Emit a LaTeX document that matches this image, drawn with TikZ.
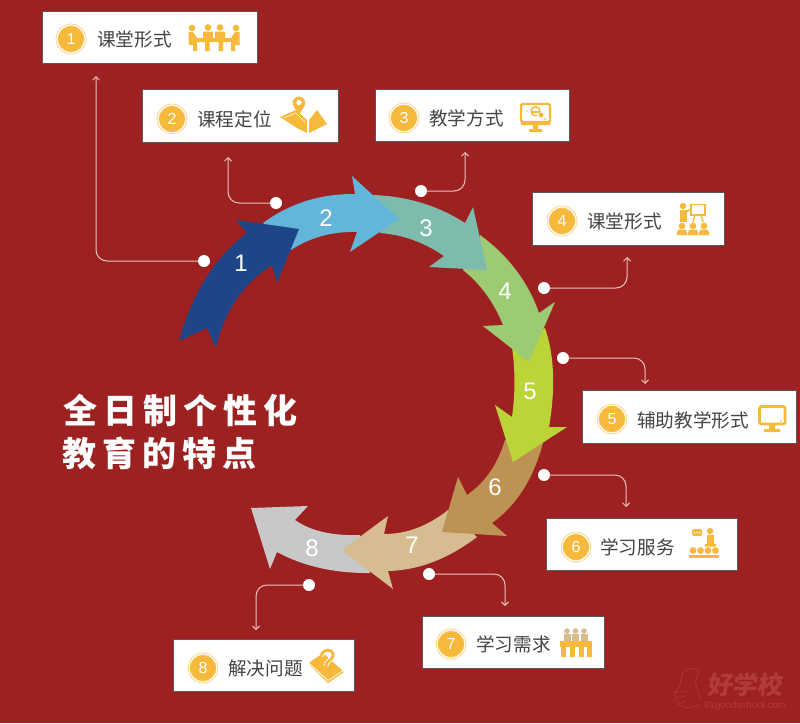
\documentclass[tikz,border=0pt]{standalone}
\usepackage{fontspec}
\setmainfont{Liberation Sans}
\newfontfamily\cjk{Noto Sans CJK SC}
\usetikzlibrary{arrows.meta}
\definecolor{bgred}{HTML}{9E2121}
\definecolor{ico}{HTML}{F6B93B}
\definecolor{icotan}{HTML}{D9BC8C}
\definecolor{conn}{HTML}{E9C4BC}
\definecolor{wm}{HTML}{AF3B3B}
\definecolor{txt}{HTML}{444444}
\definecolor{aone}{HTML}{1D4587}
\definecolor{atwo}{HTML}{63B6D9}
\definecolor{athree}{HTML}{7DBCAD}
\definecolor{afour}{HTML}{9CCB74}
\definecolor{afive}{HTML}{BBD437}
\definecolor{asix}{HTML}{BC9352}
\definecolor{aseven}{HTML}{D6BC90}
\definecolor{aeight}{HTML}{C8C8C8}
\tikzset{
 box/.style={draw=black!65,line width=.7pt,fill=white,inner sep=0,outer sep=0,minimum height=52.5pt},
 badge/.style={circle,fill=ico,draw=ico!75,line width=.7pt,double=white,double distance=1.2pt,minimum size=28pt,inner sep=0,text=white,font=\fontsize{16}{16}\selectfont},
 lab/.style={anchor=west,inner sep=0,text=txt,font=\cjk\fontsize{18.6}{20}\selectfont},
 num/.style={text=white,inner sep=0,font=\fontsize{24}{24}\selectfont},
 dotn/.style={circle,fill=white,minimum size=12pt,inner sep=0,outer sep=0},
 link/.style={draw=conn,line width=1pt,rounded corners=11pt,-{Straight Barb[length=3.5pt,width=7pt]}},
 title/.style={anchor=west,inner sep=0,text=white,font=\cjk\bfseries\fontsize{34}{36}\selectfont},
 wmark/.style={inner sep=0,text=wm},
}
\begin{document}
\begin{tikzpicture}[x=1pt,y=-1pt]
\useasboundingbox (0,0) rectangle (800,723);
\fill[bgred] (0,0) rectangle (800,723);

% ring of arrows, last first so that each head lies over the next tail
\fill[aeight] (370,573) .. controls (334.3,573.3) and (303.3,566.3) .. (277,552) -- (270,569) -- (251,508) -- (308,506) -- (295,520) .. controls (310.7,531) and (332.3,536) .. (360,535) -- cycle;
\fill[aseven] (477,537) .. controls (448,559) and (418.3,570.3) .. (388,571) -- (393,589) -- (342,550) -- (388,516) -- (384,534) .. controls (406.7,534) and (428,526) .. (448,510) -- cycle;
\fill[asix] (543,443) .. controls (533.3,479) and (516.3,505.7) .. (492,523) -- (507,536) -- (442,532) -- (458,477) -- (467,495) .. controls (485,482.7) and (497.7,464.3) .. (505,440) -- cycle;
\fill[afive] (545,328) .. controls (554.3,355) and (555.7,388) .. (549,427) -- (567,427) -- (513,462) -- (495,405) -- (512,417) .. controls (515.3,393.7) and (515.3,370.3) .. (512,347) -- cycle;
\fill[afour] (480,235) .. controls (508.3,255.7) and (528,281.7) .. (539,313) -- (555,302) -- (529,362) -- (483,326) -- (503,325) .. controls (493.7,302) and (480.3,283.7) .. (463,270) -- cycle;
\fill[athree] (373,195) .. controls (407.7,196.3) and (438.3,205.7) .. (465,223) -- (473,207) -- (487,270) -- (429,267) -- (444,256) .. controls (424,242.3) and (402.7,234.7) .. (380,233) -- cycle;
\fill[atwo] (263,223) .. controls (289.7,203.3) and (320.3,193.7) .. (355,194) -- (352,176) -- (399,219) -- (350,252) -- (357,232) .. controls (332.3,231.3) and (310.3,237.3) .. (291,250) -- cycle;
\fill[aone] (247,233) .. controls (215,257) and (192.3,293) .. (179,341) -- (207,328) -- (216,348) .. controls (224,311.7) and (242.7,284) .. (272,265) -- (277,283) -- (299,229) -- (236,220) -- cycle;

\node[num] (n1) at (241,263) {1};
\node[num] (n2) at (326,218) {2};
\node[num] (n3) at (426,228) {3};
\node[num] (n4) at (505,291) {4};
\node[num] (n5) at (530,391) {5};
\node[num] (n6) at (495,487) {6};
\node[num] (n7) at (412,545) {7};
\node[num] (n8) at (312,548) {8};

% boxes
\node[box,minimum width=215pt] (b1) at (149.5,37.5) {};
\node[box,minimum width=196pt] (b2) at (240,116) {};
\node[box,minimum width=194pt] (b3) at (472,115.5) {};
\node[box,minimum width=192pt] (b4) at (628,219) {};
\node[box,minimum width=214pt] (b5) at (689,417) {};
\node[box,minimum width=191pt] (b6) at (641.5,544.5) {};
\node[box,minimum width=182pt] (b7) at (513,642.5) {};
\node[box,minimum width=181pt] (b8) at (263.5,665.5) {};

\node[badge] (c1) at (71,39) {1};
\node[badge] (c2) at (172,119) {2};
\node[badge] (c3) at (404,118) {3};
\node[badge] (c4) at (562,221) {4};
\node[badge] (c5) at (612,419) {5};
\node[badge] (c6) at (576,547) {6};
\node[badge] (c7) at (451,644) {7};
\node[badge] (c8) at (203,668) {8};

\node[lab] (t1) at (97,39) {课堂形式};
\node[lab] (t2) at (197,119) {课程定位};
\node[lab] (t3) at (429,118) {教学方式};
\node[lab] (t4) at (587,221) {课堂形式};
\node[lab] (t5) at (637,420) {辅助教学形式};
\node[lab] (t6) at (600,547) {学习服务};
\node[lab] (t7) at (476,644) {学习需求};
\node[lab] (t8) at (228,668) {解决问题};

% connectors
\node[dotn] (d1) at (204,261) {};
\node[dotn] (d2) at (276,203) {};
\node[dotn] (d3) at (421,191) {};
\node[dotn] (d4) at (544,288) {};
\node[dotn] (d5) at (563,358) {};
\node[dotn] (d6) at (544,475) {};
\node[dotn] (d7) at (429,574) {};
\node[dotn] (d8) at (309,585) {};
\coordinate (e1) at (96,76);
\coordinate (e2) at (228,157);
\coordinate (e3) at (465,152);
\coordinate (e4) at (627,257);
\coordinate (e5) at (645,384);
\coordinate (e6) at (626,507);
\coordinate (e7) at (505,606);
\coordinate (e8) at (256,630);
\draw[link] (d1) -| (e1);
\draw[link] (d2) -| (e2);
\draw[link] (d3) -| (e3);
\draw[link] (d4) -| (e4);
\draw[link] (d5) -| (e5);
\draw[link] (d6) -| (e6);
\draw[link] (d7) -| (e7);
\draw[link] (d8) -| (e8);

% title
\node[title] (h1) at (63,410) {全\kern6pt 日\kern6pt 制\kern6pt 个\kern6pt 性\kern6pt 化};
\node[title] (h2) at (62,453) {教\kern6pt 育\kern6pt 的\kern6pt 特\kern6pt 点};

% icon 1: meeting table
\fill[ico] (192,28) circle (3.3) (208,27.5) circle (3.3) (220,27.5) circle (3.3) (236,28) circle (3.3);
\fill[ico] (203,31.5) rectangle (213,38) (215,31.5) rectangle (225,38);
\fill[ico] (195,38) rectangle (233,42) (205,42) rectangle (209.5,51) (218.5,42) rectangle (223,51);
\fill[ico] (188.5,32) -- (193,32) -- (197,38) -- (197,42) -- (197,51) -- (193,51) -- (193,45) -- (188.5,45) -- cycle;
\fill[ico] (239.5,32) -- (235,32) -- (231,38) -- (231,51) -- (235,51) -- (235,45) -- (239.5,45) -- cycle;

% icon 2: map book and pin
\fill[ico] (280,117) -- (296,110) -- (307,120) -- (307,133) -- (297,128) -- cycle;
\fill[ico] (309,120) -- (317,110) -- (327,124) -- (309,133) -- cycle;
\draw[white,line width=.7pt] (284,118) -- (296,113) -- (305,122);
\fill[ico] (299,115) -- (293.5,106) arc (150:390:6.3) -- cycle;
\fill[white] (299,102.5) circle (2.6);

% icon 3: monitor with e
\draw[ico,line width=2.2pt,rounded corners=1.5pt] (521,104) rectangle (550,122);
\fill[ico] (521,122) rectangle (550,125) (533,125) rectangle (538,129) (529,129) rectangle (542,132);
\draw[ico,line width=1.5pt] (540,112) arc (10:-290:4.5);
\draw[ico,line width=1.3pt] (531,112) -- (540,112);
\fill[ico] (541,115) circle (2.4) (527,111) circle (.9) (545,119) circle (1);

% icon 4: presenter and audience
\fill[ico] (683,206) circle (3.2);
\fill[ico] (680,210) rectangle (686.5,222);
\draw[ico,line width=1.5pt] (686,212) -- (691,209);
\draw[ico,line width=1.7pt] (691,204.5) rectangle (705,215);
\draw[ico,line width=1.4pt] (695,215) -- (693,222) (701,215) -- (703,222);
\foreach \px in {682,693,704}{
 \fill[ico] (\px,226) circle (3.3);
 \fill[ico] (\px-5.5,235) -- (\px-4,229.5) -- (\px+4,229.5) -- (\px+5.5,235) -- cycle;
}

% icon 5: monitor
\draw[ico,line width=2.6pt,rounded corners=2pt] (759.5,406.5) rectangle (785,424);
\fill[ico] (769,425) rectangle (775,429) (764,429) rectangle (780,432);
\fill[ico] (781,421) circle (.9);

% icon 6: speaker and audience
\fill[ico,rounded corners=1.5pt] (692,529) rectangle (702,536);
\fill[white] (694.5,532.5) circle (.8) (697,532.5) circle (.8) (699.5,532.5) circle (.8);
\fill[ico] (710,531) circle (3.2);
\fill[ico] (707,535) rectangle (714,544) (705,544) rectangle (716,546.5);
\foreach \px in {693,700.5,708,715.5}{\fill[ico] (\px,550.5) circle (3.4);}
\fill[ico] (689,554.5) rectangle (719,558);

% icon 7: group at a table
\foreach \px in {567,575.5,584}{
 \fill[icotan] (\px,631) circle (2.8);
 \fill[icotan] (\px-3.5,634) rectangle (\px+3.5,642);
}
\fill[ico] (560,641) rectangle (592,647);
\foreach \px in {563,572,581,589}{\fill[ico] (\px-2.5,647) rectangle (\px+2.5,657);}

% icon 8: book with question mark
\fill[ico] (310,662) -- (323,653) -- (344,672) -- (328,683) -- (310,665) -- cycle;
\draw[white,line width=.7pt] (310.5,664.5) -- (328,680.5) -- (344,670);
\draw[white,line width=4.6pt] (321,656) .. controls (323,648) and (334,648) .. (333,656) .. controls (332,661) and (326,660) .. (326,666);
\draw[ico,line width=2.8pt] (321,656) .. controls (323,648) and (334,648) .. (333,656) .. controls (332,661) and (326,660) .. (326,666);
\fill[ico] (326,670.5) circle (2);

% watermark
\node[wmark,font=\cjk\bfseries\fontsize{25}{25}\selectfont,xslant=.12] (w1) at (746,685) {好学校};
\node[wmark,font=\fontsize{9.8}{10}\selectfont] (w2) at (745,705.5) {91goodschool.com};
\draw[wm,line width=.6pt,rounded corners=3pt] (700,705) -- (686,708) -- (678,705) -- (674,692) -- (680,687) -- (682,672) -- (692,668) -- (700,670) -- (695,682) -- (700,698);
\draw[wm,line width=.5pt] (674,693) -- (686,691) (676,698) -- (686,696) (678,703) -- (686,701);
\end{tikzpicture}
\end{document}
